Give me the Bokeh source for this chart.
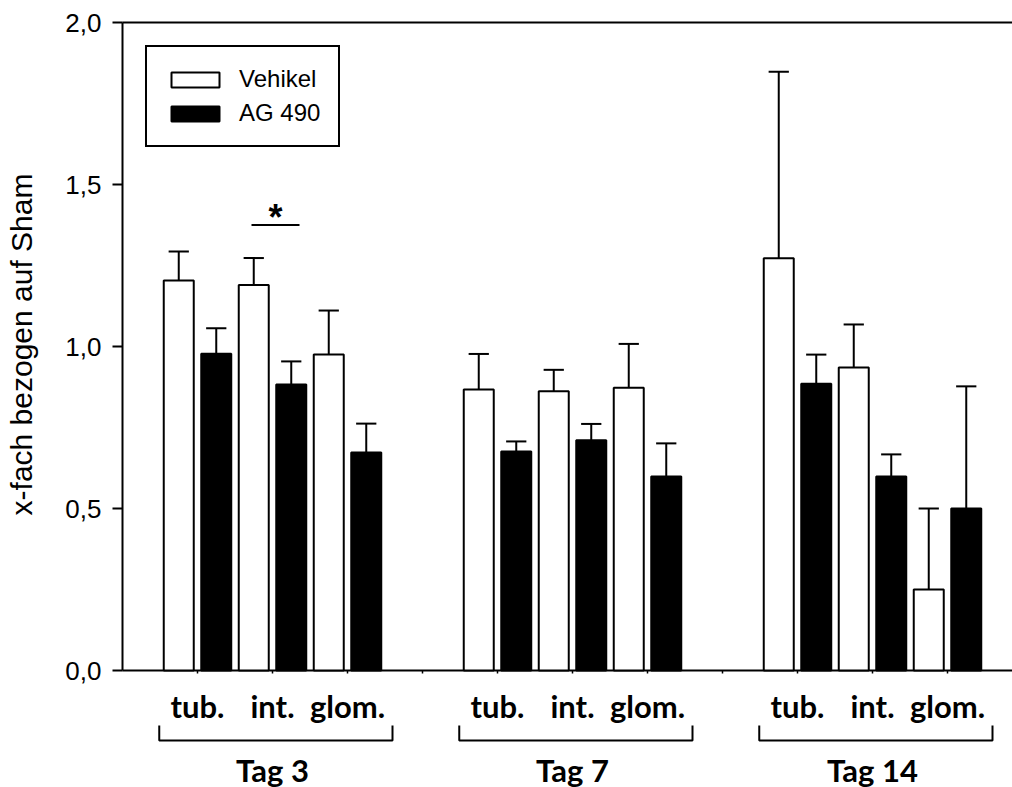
from bokeh.plotting import figure
from bokeh.layouts import column
from bokeh.models import Range1d, FixedTicker, Legend, LegendItem, ColumnDataSource, CustomJSTickFormatter
from bokeh.core.properties import value
from bokeh.embed import file_html
from bokeh.resources import INLINE

# ---- data ----
days = ["Tag 3", "Tag 7", "Tag 14"]
regions = ["tub.", "int.", "glom."]
series = ["Vehikel", "AG 490"]
# order: Tag3 tub,int,glom, Tag7 tub,int,glom, Tag14 tub,int,glom
vehikel_mean = [1.204, 1.190, 0.975, 0.867, 0.862, 0.873, 1.272, 0.935, 0.250]
vehikel_err = [0.089, 0.083, 0.136, 0.110, 0.066, 0.135, 0.576, 0.133, 0.250]
ag490_mean = [0.978, 0.883, 0.673, 0.676, 0.711, 0.599, 0.885, 0.599, 0.500]
ag490_err = [0.078, 0.071, 0.089, 0.031, 0.050, 0.102, 0.090, 0.068, 0.377]
y_ticks = [0.0, 0.5, 1.0, 1.5, 2.0]
sig_day, sig_region, sig_text = [0], [1], ["*"]

# ---- layout helpers (positions, not data) ----
GROUP = 8.0
UNIT = 37.5          # px per x unit
PX = 324.0           # px per y unit
def xpos(d, r, s):
    return GROUP * d + 1.5 + 2 * r + s
def ypx(dy):
    return dy / PX

xs_v, xs_a = [], []
for d in range(len(days)):
    for r in range(len(regions)):
        xs_v.append(xpos(d, r, 0))
        xs_a.append(xpos(d, r, 1))

W = 1012
H1 = 687
x_end = (W - 122) / UNIT
p = figure(width=W, height=H1, output_backend="svg", toolbar_location=None,
           x_range=Range1d(-3 / UNIT, x_end), y_range=Range1d(-ypx(4), 2.0 + ypx(8)),
           x_axis_location=None, min_border_left=119, min_border_right=0,
           min_border_top=14, min_border_bottom=13)
p.outline_line_color = None
p.xgrid.visible = False
p.ygrid.visible = False
p.background_fill_color = "white"
p.border_fill_color = "white"

# y axis
ax = p.yaxis[0]
ax.ticker = FixedTicker(ticks=y_ticks)
ax.formatter = CustomJSTickFormatter(code="return tick.toFixed(1).replace('.', ',');")
ax.axis_line_color = None
ax.major_tick_out = 7
ax.major_tick_in = 3
ax.major_tick_line_width = 2
ax.major_tick_line_color = "black"
ax.minor_tick_line_color = None
ax.major_label_text_font = "Liberation Sans"
ax.major_label_text_font_size = "26px"
ax.major_label_text_color = "black"
ax.major_label_standoff = 11
ax.axis_label = "x-fach bezogen auf Sham"
ax.axis_label_text_font = "Liberation Sans"
ax.axis_label_text_font_size = "30px"
ax.axis_label_text_font_style = "normal"
ax.axis_label_text_color = "black"
ax.axis_label_standoff = 24

# frame lines
p.segment(x0=[0, 0, 0], y0=[0, 0, 2.0], x1=[0, x_end, x_end], y1=[2.0, 0, 2.0],
          line_color="black", line_width=2)
tx = [float(t) for t in range(2, int(x_end) + 1, 2)]
p.segment(x0=tx, y0=[0] * len(tx), x1=tx, y1=[-ypx(3)] * len(tx), line_color="black", line_width=1.5)

# bars
src_v = ColumnDataSource(dict(x=xs_v, top=vehikel_mean,
                              etop=[m + e for m, e in zip(vehikel_mean, vehikel_err)]))
src_a = ColumnDataSource(dict(x=xs_a, top=ag490_mean,
                              etop=[m + e for m, e in zip(ag490_mean, ag490_err)]))
rv = p.vbar(x="x", top="top", bottom=0, width=0.8, source=src_v,
            fill_color="white", line_color="black", line_width=2)
ra = p.vbar(x="x", top="top", bottom=0, width=0.8, source=src_a,
            fill_color="black", line_color="black", line_width=2)
for src in (src_v, src_a):
    p.segment(x0="x", y0="top", x1="x", y1="etop", source=src, line_color="black", line_width=2)
    dd = src.data
    p.segment(x0=[x - 0.27 for x in dd["x"]], y0=dd["etop"], x1=[x + 0.27 for x in dd["x"]],
              y1=dd["etop"], line_color="black", line_width=2)

# significance
for d, r, t in zip(sig_day, sig_region, sig_text):
    i = d * len(regions) + r
    top = max(vehikel_mean[i] + vehikel_err[i], ag490_mean[i] + ag490_err[i])
    xc = (xs_v[i] + xs_a[i]) / 2 + 0.08
    yl = top + ypx(33)
    p.segment(x0=[xc - 0.64], y0=[yl], x1=[xc + 0.64], y1=[yl], line_color="black", line_width=2)
    p.text(x=[xc], y=[yl + ypx(8)], text=[t], text_font=value("Liberation Sans"),
           text_font_style="bold", text_font_size="36px", text_align="center",
           text_baseline="alphabetic", text_color="black")

# legend
legend = Legend(items=[LegendItem(label=series[0], renderers=[rv]),
                       LegendItem(label=series[1], renderers=[ra])],
                location=(26, 527), border_line_color="black", border_line_width=2,
                border_line_alpha=1.0,
                background_fill_color="white", background_fill_alpha=1.0,
                padding=18, spacing=6, margin=0, glyph_width=60, glyph_height=19,
                label_height=19, label_standoff=14, label_text_font="Liberation Sans",
                label_text_font_size="24px", label_text_color="black")
p.add_layout(legend)

# ---- lower strip: region labels, brackets, day labels ----
H2 = 787 - H1
p2 = figure(width=W, height=H2, output_backend="svg", toolbar_location=None,
            x_range=p.x_range, y_range=Range1d(-H2, 0),
            x_axis_location=None, y_axis_location=None, min_border_left=119,
            min_border_right=0, min_border_top=0, min_border_bottom=0)
p2.outline_line_color = None
p2.xgrid.visible = False
p2.ygrid.visible = False
p2.background_fill_color = "white"
p2.border_fill_color = "white"

rx, rt = [], []
for d in range(len(days)):
    for r, name in enumerate(regions):
        rx.append(GROUP * d + 2 + 2 * r)
        rt.append(name)
p2.text(x=rx, y=[-18] * len(rx), text=rt, text_font=value("Lato"), text_font_style="bold",
        text_font_size="31px", text_align="center", text_baseline="middle", text_color="black")

bxs, bys = [], []
for d in range(len(days)):
    x0, x1 = GROUP * d + 0.98, GROUP * d + 7.2
    bxs.append([x0, x0, x1, x1])
    bys.append([-38, -53, -53, -38])
p2.multi_line(xs=bxs, ys=bys, line_color="black", line_width=2)
p2.text(x=[GROUP * d + 4 for d in range(len(days))], y=[-82] * len(days), text=days,
        text_font=value("Lato"), text_font_style="bold", text_font_size="31px",
        text_align="center", text_baseline="middle", text_color="black")

layout = column(p, p2, spacing=0)
open("out.html", "w").write(file_html(layout, INLINE))
